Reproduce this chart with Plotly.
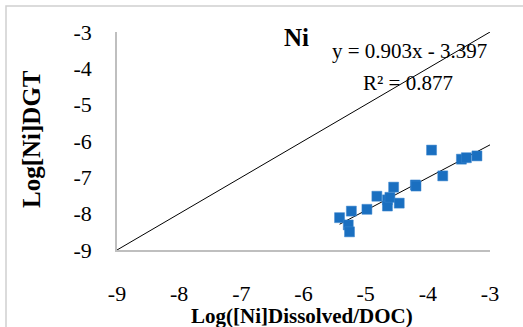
import plotly.graph_objects as go

# Data
log_dissolved_doc = [-5.42, -5.23, -5.28, -5.26, -4.98, -4.82, -4.55, -4.65, -4.65,
                     -4.61, -4.46, -4.20, -4.19, -3.94, -3.76, -3.46, -3.38, -3.21]
log_dgt = [-8.11, -7.93, -8.31, -8.50, -7.88, -7.52, -7.27, -7.62, -7.79,
           -7.55, -7.71, -7.21, -7.24, -6.25, -6.96, -6.50, -6.46, -6.41]

slope = 0.903
intercept = -3.397
r2 = 0.877
trend_x = [min(log_dissolved_doc), -3.0]
trend_y = [slope * v + intercept for v in trend_x]
one_to_one = [-9, -3]
tick_vals = [-9, -8, -7, -6, -5, -4, -3]
tick_text = ["-9", "-8", "-7", "-6", "-5", "-4", "-3"]

FONT = "Liberation Serif"
W, H = 523, 327
L, R, T, B = 117, 33, 32, 77
pw, ph = W - L - R, H - T - B

def px(x):
    return (x - L) / pw

def py(y):
    return (H - B - y) / ph

fig = go.Figure()
fig.add_trace(go.Scatter(x=one_to_one, y=one_to_one, mode="lines",
                         line=dict(color="black", width=1), showlegend=False, hoverinfo="skip"))
fig.add_trace(go.Scatter(x=trend_x, y=trend_y, mode="lines",
                         line=dict(color="black", width=1), showlegend=False, hoverinfo="skip"))
fig.add_trace(go.Scatter(x=log_dissolved_doc, y=log_dgt, mode="markers",
                         marker=dict(symbol="square", size=10, color="#1A6FC0",
                                     line=dict(width=0.5, color="#3D86CF")),
                         showlegend=False))

axis_common = dict(range=[-9, -3], tickvals=tick_vals, ticktext=tick_text,
                   showgrid=False, zeroline=False,
                   showline=True, linecolor="#BFBFBF", linewidth=1.5, ticks="",
                   tickfont=dict(family=FONT, size=22, color="black"))
fig.update_xaxes(**axis_common, ticklabelstandoff=23)
fig.update_yaxes(**axis_common, ticklabelstandoff=19)

annotations = [
    dict(text="<b>Ni</b>", x=px(296), y=py(38), font=dict(size=25)),
    dict(text="y = 0.903x - 3.397", x=px(409), y=py(51), font=dict(size=21)),
    dict(text="R² = 0.877", x=px(408), y=py(83), font=dict(size=21)),
    dict(text="<b>Log([Ni]Dissolved/DOC)</b>", x=px(302), y=py(316), font=dict(size=21)),
    dict(text="<b>Log[Ni]DGT</b>", x=px(31), y=py(139), font=dict(size=25), textangle=-90),
]
for a in annotations:
    a.update(xref="paper", yref="paper", showarrow=False, xanchor="center", yanchor="middle")
    a["font"].update(family=FONT, color="black")

fig.update_layout(
    width=W, height=H,
    margin=dict(l=L, r=R, t=T, b=B),
    paper_bgcolor="white", plot_bgcolor="white",
    annotations=annotations,
    shapes=[dict(type="rect", xref="paper", yref="paper",
                 x0=px(6), x1=px(W + 20), y0=py(H + 20), y1=py(6),
                 line=dict(color="#D0D0D0", width=1.5), layer="below")],
)

fig.write_html("out.html")
